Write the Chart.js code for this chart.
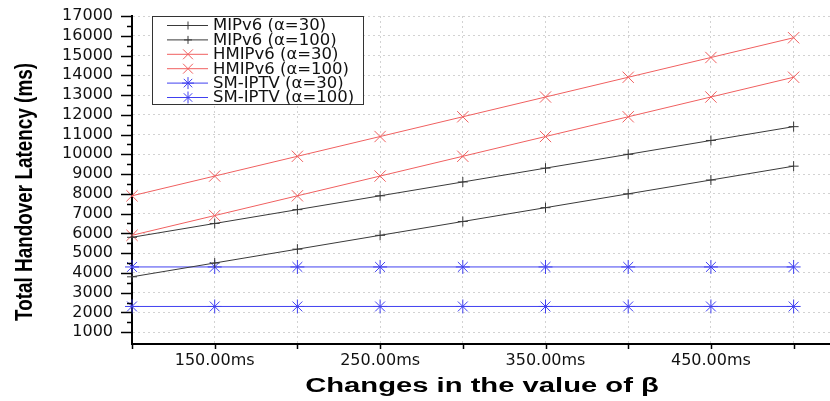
<!DOCTYPE html>
<html lang="en">
<head>
<meta charset="UTF-8" />
<title>Total Handover Latency</title>
<script src="https://cdn.jsdelivr.net/npm/chart.js@4.4.1/dist/chart.umd.min.js"></script>
<style>
  html, body { margin: 0; padding: 0; background: #fff; }
</style>
</head>
<body>
<canvas id="latencyChart" width="830" height="401"></canvas>
<script>
// values
const betaValues = [100, 150, 200, 250, 300, 350, 400, 450, 500];
const mipv6A30 = [3800, 4500, 5200, 5900, 6600, 7300, 8000, 8700, 9400];
const mipv6A100 = [5800, 6500, 7200, 7900, 8600, 9300, 10000, 10700, 11400];
const hmipv6A30 = [7900, 8900, 9900, 10900, 11900, 12900, 13900, 14900, 15900];
const hmipv6A100 = [5900, 6900, 7900, 8900, 9900, 10900, 11900, 12900, 13900];
const smIptvA30 = [4300, 4300, 4300, 4300, 4300, 4300, 4300, 4300, 4300];
const smIptvA100 = [2300, 2300, 2300, 2300, 2300, 2300, 2300, 2300, 2300];
const xTickLabels = { 150: '150.00ms', 250: '250.00ms', 350: '350.00ms', 450: '450.00ms' };
const yTicks = [1000, 1500, 2000, 2500, 3000, 3500, 4000, 4500, 5000, 5500, 6000, 6500, 7000, 7500, 8000, 8500,
  9000, 9500, 10000, 10500, 11000, 11500, 12000, 12500, 13000, 13500, 14000, 14500, 15000, 15500, 16000, 16500, 17000];
const xTitle = 'Changes in the value of \u03b2';
const yTitle = 'Total Handover Latency (ms)';

const BLACK = '#3a3a3a';
const RED = '#f06060';
const BLUE = '#4040f0';

function series(label, values, color, style, radius) {
  return {
    label: label,
    data: betaValues.map((b, i) => ({ x: b, y: values[i] })),
    borderColor: color,
    backgroundColor: color,
    borderWidth: 1,
    pointStyle: style,
    pointRadius: radius,
    pointBorderWidth: 1,
    pointHoverRadius: radius,
    clip: false
  };
}

const datasets = [
  series('MIPv6 (\u03b1=30)', mipv6A30, BLACK, 'cross', 5),
  series('MIPv6 (\u03b1=100)', mipv6A100, BLACK, 'cross', 5),
  series('HMIPv6 (\u03b1=30)', hmipv6A30, RED, 'crossRot', 8),
  series('HMIPv6 (\u03b1=100)', hmipv6A100, RED, 'crossRot', 8),
  series('SM-IPTV (\u03b1=30)', smIptvA30, BLUE, 'star', 7),
  series('SM-IPTV (\u03b1=100)', smIptvA100, BLUE, 'star', 7)
];

// stretched text, the original picture is wider than tall
function wideText(ctx, text, x, y, sx, sy, rot) {
  ctx.save();
  ctx.translate(x, y);
  if (rot) ctx.rotate(rot);
  ctx.scale(sx, sy);
  ctx.fillText(text, 0, 0);
  ctx.restore();
}

// tick marks, axis titles and boxed legend inside the plot
const extras = {
  id: 'extras',
  afterDraw(chart) {
    const ctx = chart.ctx;
    const xs = chart.scales.x, ys = chart.scales.y;
    const area = chart.chartArea;
    ctx.save();
    ctx.strokeStyle = '#000';
    ctx.lineWidth = 1.5;
    yTicks.forEach(v => {
      const py = Math.round(ys.getPixelForValue(v)) + 0.5;
      const len = v % 1000 === 0 ? 11 : 5;
      ctx.beginPath();
      ctx.moveTo(area.left - len, py);
      ctx.lineTo(area.left, py);
      ctx.stroke();
    });
    betaValues.forEach(v => {
      const px = Math.round(xs.getPixelForValue(v)) + 0.5;
      ctx.beginPath();
      ctx.moveTo(px, area.bottom);
      ctx.lineTo(px, area.bottom + 5);
      ctx.stroke();
    });

    ctx.fillStyle = '#000';
    ctx.textAlign = 'center';
    ctx.textBaseline = 'middle';
    ctx.font = 'bold 21px "Liberation Sans", sans-serif';
    wideText(ctx, yTitle, 25, 192, 0.9, 1.15, -Math.PI / 2);
    ctx.font = 'bold 20px "Liberation Sans", sans-serif';
    wideText(ctx, xTitle, 482, 386, 1.46, 1, 0);

    // legend
    const bx = 152, by = 16, bw = 211, bh = 88;
    ctx.fillStyle = '#fff';
    ctx.fillRect(bx, by, bw, bh);
    ctx.strokeStyle = '#333';
    ctx.lineWidth = 1;
    ctx.strokeRect(bx + 0.5, by + 0.5, bw, bh);
    ctx.font = '15px "DejaVu Sans", sans-serif';
    ctx.textBaseline = 'middle';
    ctx.textAlign = 'left';
    chart.data.datasets.forEach((ds, i) => {
      const ry = by + 9.5 + i * 14.4;
      ctx.strokeStyle = ds.borderColor;
      ctx.beginPath();
      ctx.moveTo(167, ry);
      ctx.lineTo(208, ry);
      ctx.stroke();
      Chart.helpers.drawPoint(ctx, { pointStyle: ds.pointStyle, radius: ds.pointRadius - 1, borderWidth: 1 }, 188, ry);
      ctx.fillStyle = '#111';
      wideText(ctx, ds.label, 213, ry + 1, 1.1, 1, 0);
    });
    ctx.restore();
  }
};

new Chart(document.getElementById('latencyChart'), {
  type: 'line',
  data: { datasets: datasets },
  plugins: [extras],
  options: {
    responsive: false,
    animation: false,
    events: [],
    layout: { autoPadding: false, padding: { top: 16, right: 0, left: 0, bottom: 0 } },
    plugins: {
      legend: { display: false },
      tooltip: { enabled: false }
    },
    scales: {
      x: {
        type: 'linear',
        min: 100,
        max: 522,
        afterBuildTicks: s => { s.ticks = betaValues.map(v => ({ value: v })); },
        afterFit: s => { s.height = 57; s.paddingLeft = 0; s.paddingRight = 0; },
        ticks: {
          autoSkip: false,
          maxRotation: 0,
          padding: 7,
          color: '#111',
          font: { family: '"DejaVu Sans", sans-serif', size: 16 },
          callback: v => xTickLabels[v] || ''
        },
        grid: {
          drawTicks: false,
          color: c => (c.tick && c.tick.value === 100 ? 'rgba(0,0,0,0)' : '#d2d2d2'),
          lineWidth: 1
        },
        border: { display: true, color: '#000', width: 2, dash: [2, 3] }
      },
      y: {
        min: 400,
        max: 17000,
        afterBuildTicks: s => { s.ticks = yTicks.map(v => ({ value: v })); },
        afterFit: s => { s.width = 132; s.paddingTop = 0; s.paddingBottom = 0; },
        ticks: {
          autoSkip: false,
          padding: 19,
          color: '#111',
          font: { family: '"DejaVu Sans", sans-serif', size: 16 },
          callback: v => (v % 1000 === 0 ? String(v) : '')
        },
        grid: {
          drawTicks: false,
          color: c => (c.tick && c.tick.value % 1000 === 0 ? '#d2d2d2' : 'rgba(0,0,0,0)'),
          lineWidth: 1
        },
        border: { display: true, color: '#000', width: 2, dash: [2, 3] }
      }
    }
  }
});
</script>
</body>
</html>
